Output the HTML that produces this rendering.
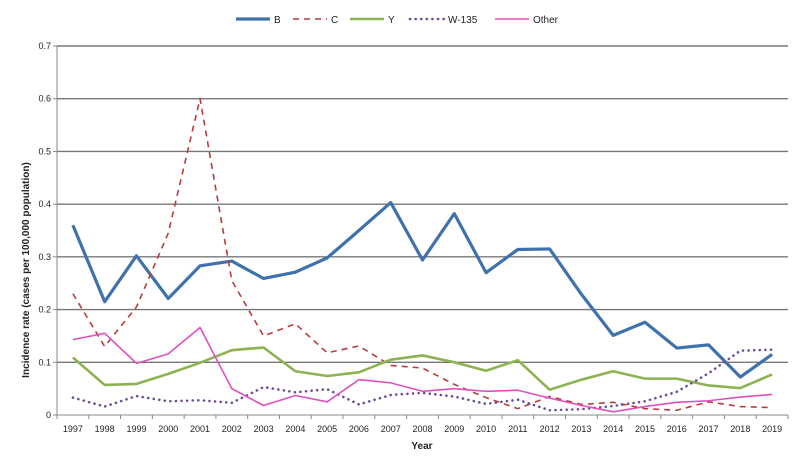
<!DOCTYPE html>
<html><head><meta charset="utf-8"><style>
body{margin:0;background:#fff;font-family:"Liberation Sans",sans-serif}
</style></head><body>
<svg id="chart" width="800" height="470" xmlns="http://www.w3.org/2000/svg"></svg>
<script>
const years=["1997","1998","1999","2000","2001","2002","2003","2004","2005","2006","2007","2008","2009","2010","2011","2012","2013","2014","2015","2016","2017","2018","2019"];
const serB=[.36,.215,.302,.221,.283,.292,.259,.271,.298,.35,.403,.294,.382,.27,.314,.315,.229,.151,.176,.127,.133,.072,.115];
const serC=[.23,.13,.205,.345,.6,.255,.15,.173,.118,.131,.094,.089,.058,.033,.012,.035,.02,.024,.012,.009,.025,.016,.014];
const serY=[.109,.057,.059,.078,.099,.123,.128,.083,.074,.081,.105,.113,.1,.084,.104,.048,.067,.083,.069,.069,.056,.051,.077];
const serW=[.033,.016,.036,.026,.028,.023,.053,.043,.049,.02,.038,.042,.035,.021,.029,.009,.011,.017,.026,.044,.079,.122,.124];
const serOther=[.143,.155,.098,.116,.166,.05,.018,.037,.025,.067,.061,.045,.05,.045,.047,.032,.018,.006,.016,.024,.027,.034,.039];
const yTicks=[0,0.1,0.2,0.3,0.4,0.5,0.6,0.7];
const seriesNames=["B","C","Y","W-135","Other"];

const svg=document.getElementById('chart');
const NS="http://www.w3.org/2000/svg";
const L=57,R=788,T=46,B=415;
const bw=(R-L)/years.length;
const x=i=>L+bw*(i+0.5);
const y=v=>B-(v/0.7)*(B-T);
function mk(tag,attrs,parent){const e=document.createElementNS(NS,tag);for(const k in attrs)e.setAttribute(k,attrs[k]);(parent||svg).appendChild(e);return e;}

yTicks.forEach(t=>{
  const g=mk('line',{x1:L,x2:R,y1:y(t),y2:y(t),stroke:t===0?'#888':'#777','stroke-width':t===0?1:1.4});
  
  
  const tx=mk('text',{x:L-6,y:y(t)+3,'text-anchor':'end','font-size':9,fill:'#222'});
  tx.textContent=String(t);
  
  
  mk('line',{x1:L-4,x2:L,y1:y(t),y2:y(t),stroke:'#888'});
});
mk('line',{x1:L,x2:L,y1:T,y2:B,stroke:'#888'});
for(let i=0;i<=years.length;i++){mk('line',{x1:L+bw*i,x2:L+bw*i,y1:B,y2:B+4,stroke:'#888'});}
years.forEach((yr,i)=>{
  const tx=mk('text',{x:x(i),y:B+17,'text-anchor':'middle','font-size':9,fill:'#222'});
  tx.textContent=yr;
  
  
});
const xt=mk('text',{x:422,y:449,'text-anchor':'middle','font-size':10,'font-weight':'bold',fill:'#222'});
xt.textContent='Year';


const yt=mk('text',{x:0,y:0,'text-anchor':'middle','font-size':10,'font-weight':'bold',fill:'#222',transform:'translate(29,270) rotate(-90)'});
yt.textContent='Incidence rate (cases per 100,000 population)';



const styles=[
 {d:serB,c:'#3f72ad',w:3.2,da:''},
 {d:serC,c:'#b83c3a',w:1.6,da:'6,5'},
 {d:serY,c:'#8db350',w:2.6,da:''},
 {d:serW,c:'#6b4e96',w:2.6,da:'0.1,5.5',cap:'round'},
 {d:serOther,c:'#e050c0',w:1.6,da:''}
];
styles.forEach((s,k)=>{
  const p=mk('polyline',{points:s.d.map((v,i)=>x(i)+','+y(v)).join(' '),fill:'none',stroke:s.c,'stroke-width':s.w,'stroke-dasharray':s.da,'stroke-linecap':s.cap||'butt','stroke-linejoin':'round'});
  
  
});
const legX=[236,293,350,410,495];
styles.forEach((s,k)=>{
  const g=mk('g',{});
  
  
  mk('line',{x1:legX[k],x2:legX[k]+34,y1:19,y2:19,stroke:s.c,'stroke-width':s.w,'stroke-dasharray':s.da,'stroke-linecap':s.cap||'butt'},g);
  const t=mk('text',{x:legX[k]+38,y:23,'font-size':10,fill:'#222'},g);
  t.textContent=seriesNames[k];
});
</script>
</body></html>
